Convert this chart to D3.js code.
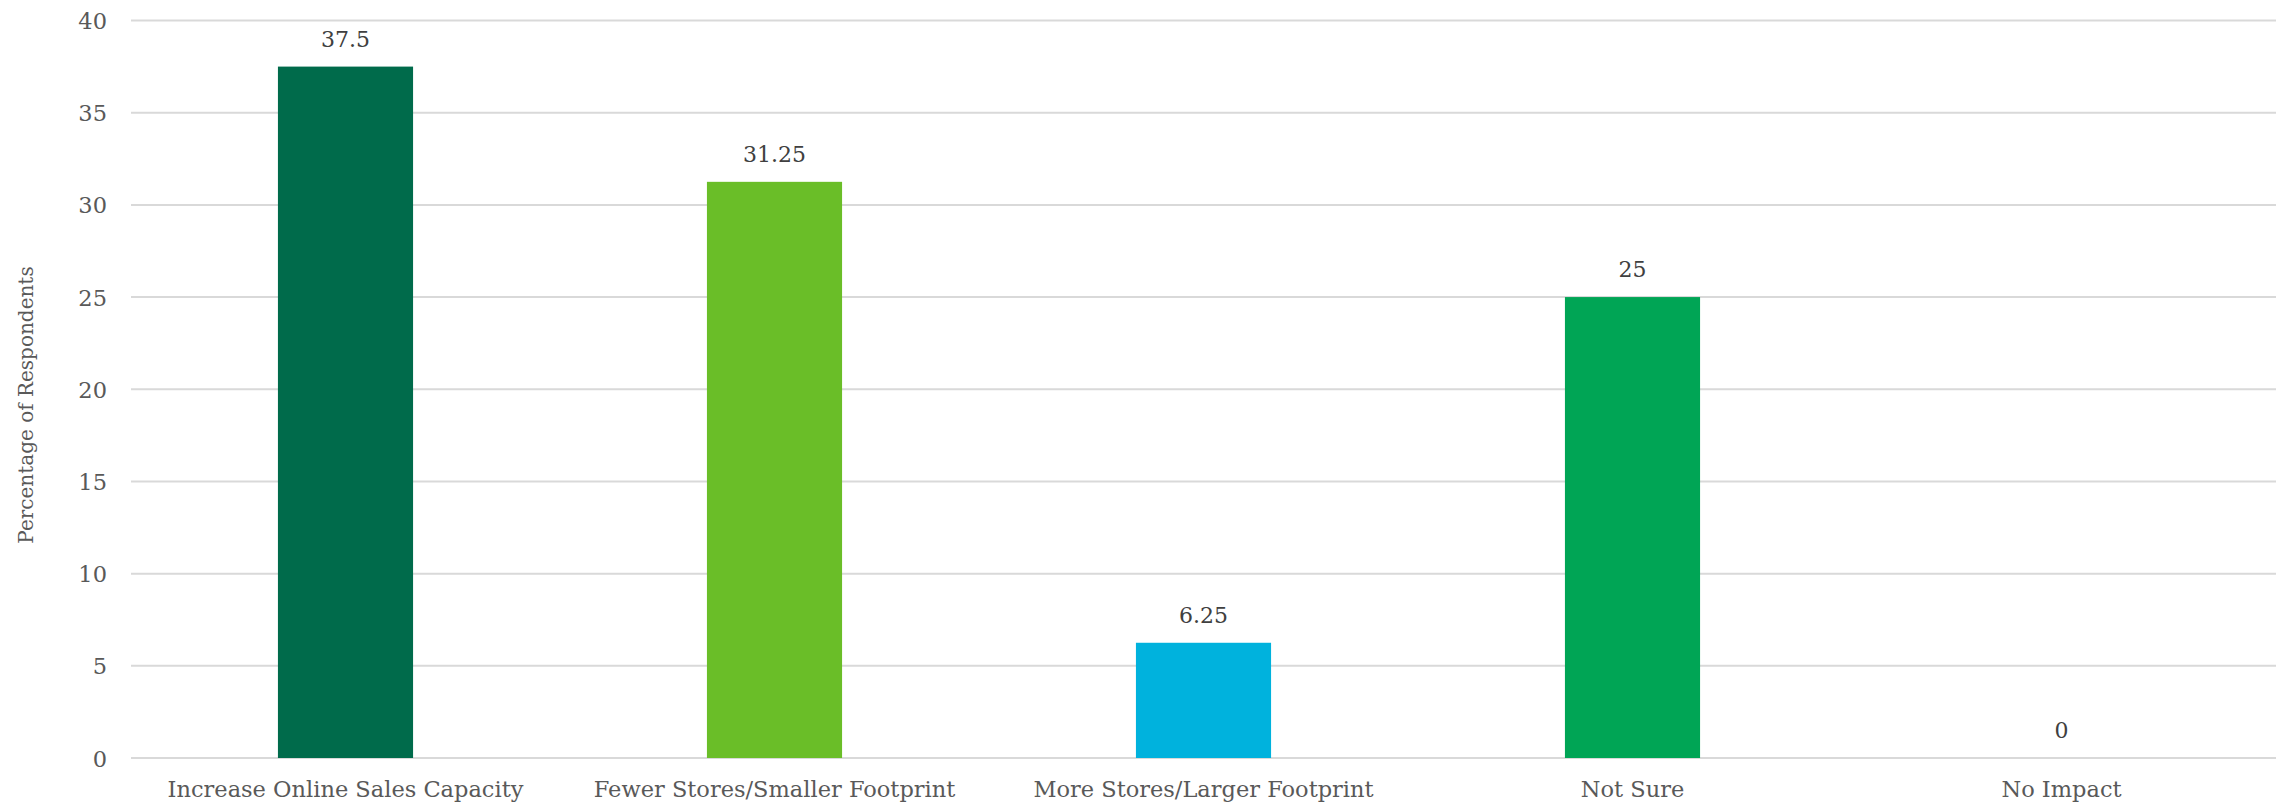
<!DOCTYPE html>
<html><head><meta charset="utf-8">
<script src="https://cdn.jsdelivr.net/npm/d3@7"></script>
<style>body{margin:0;background:#fff}svg{display:block}</style>
</head><body>
<svg id="chart" width="2287" height="805"></svg>
<script>
const categories = ["Increase Online Sales Capacity","Fewer Stores/Smaller Footprint","More Stores/Larger Footprint","Not Sure","No Impact"];
const values = [37.5, 31.25, 6.25, 25, 0];
const valueLabels = ["37.5","31.25","6.25","25","0"];
const barColors = ["#006B4B","#6ABE28","#00B2DD","#00A555","#888888"];
const yTicks = [0,5,10,15,20,25,30,35,40];
const yTitle = "Percentage of Respondents";

const svg = d3.select("#chart");
const m = {left:131, right:2276, top:20.5, bottom:758};
const font = "'DejaVu Serif', 'Liberation Serif', serif";
const textColor = "#595959";

const x = d3.scaleBand().domain(categories).range([m.left, m.right]).paddingInner(0.685).paddingOuter(0.3425);
const y = d3.scaleLinear().domain([0,40]).range([m.bottom, m.top]);

// gridlines
svg.append("g").selectAll("line").data(yTicks).join("line")
  .attr("x1", m.left).attr("x2", m.right)
  .attr("y1", d=>y(d)).attr("y2", d=>y(d))
  .attr("stroke", "#d9d9d9").attr("stroke-width", 2);

// y axis labels
const yAxis = d3.axisLeft(y).tickValues(yTicks).tickSize(0).tickPadding(0);
const gy = svg.append("g").attr("transform", `translate(${m.left-24},0)`).call(yAxis);
gy.attr("font-family", null).attr("font-size", null);
gy.select(".domain").remove();
gy.selectAll("text").attr("font-family", font).attr("font-size", 22.5).attr("fill", textColor).attr("dy","0.36em");

// x axis labels
const xAxis = d3.axisBottom(x).tickSize(0).tickPadding(0);
const gx = svg.append("g").attr("transform", `translate(0,797)`).call(xAxis);
gx.attr("font-family", null).attr("font-size", null);
gx.select(".domain").remove();
gx.selectAll("text").attr("y", 0).attr("dy", null).attr("font-family", font).attr("font-size", 22.5).attr("fill", textColor);

// bars
svg.append("g").selectAll("rect").data(values).join("rect")
  .attr("x", (d,i)=>x(categories[i]))
  .attr("width", x.bandwidth())
  .attr("y", d=>y(d))
  .attr("height", d=>y(0)-y(d))
  .attr("fill", (d,i)=>barColors[i]);

// value labels
svg.append("g").selectAll("text").data(values).join("text")
  .attr("x", (d,i)=>x(categories[i]) + x.bandwidth()/2)
  .attr("y", d=>y(d) - 20)
  .attr("text-anchor","middle")
  .attr("font-family", font).attr("font-size", 22).attr("fill", "#404040")
  .text((d,i)=>valueLabels[i]);

// y title
svg.append("text")
  .attr("transform", `translate(33,405) rotate(-90)`)
  .attr("text-anchor","middle")
  .attr("font-family", font).attr("font-size", 20).attr("fill", textColor)
  .text(yTitle);
</script>
</body></html>
